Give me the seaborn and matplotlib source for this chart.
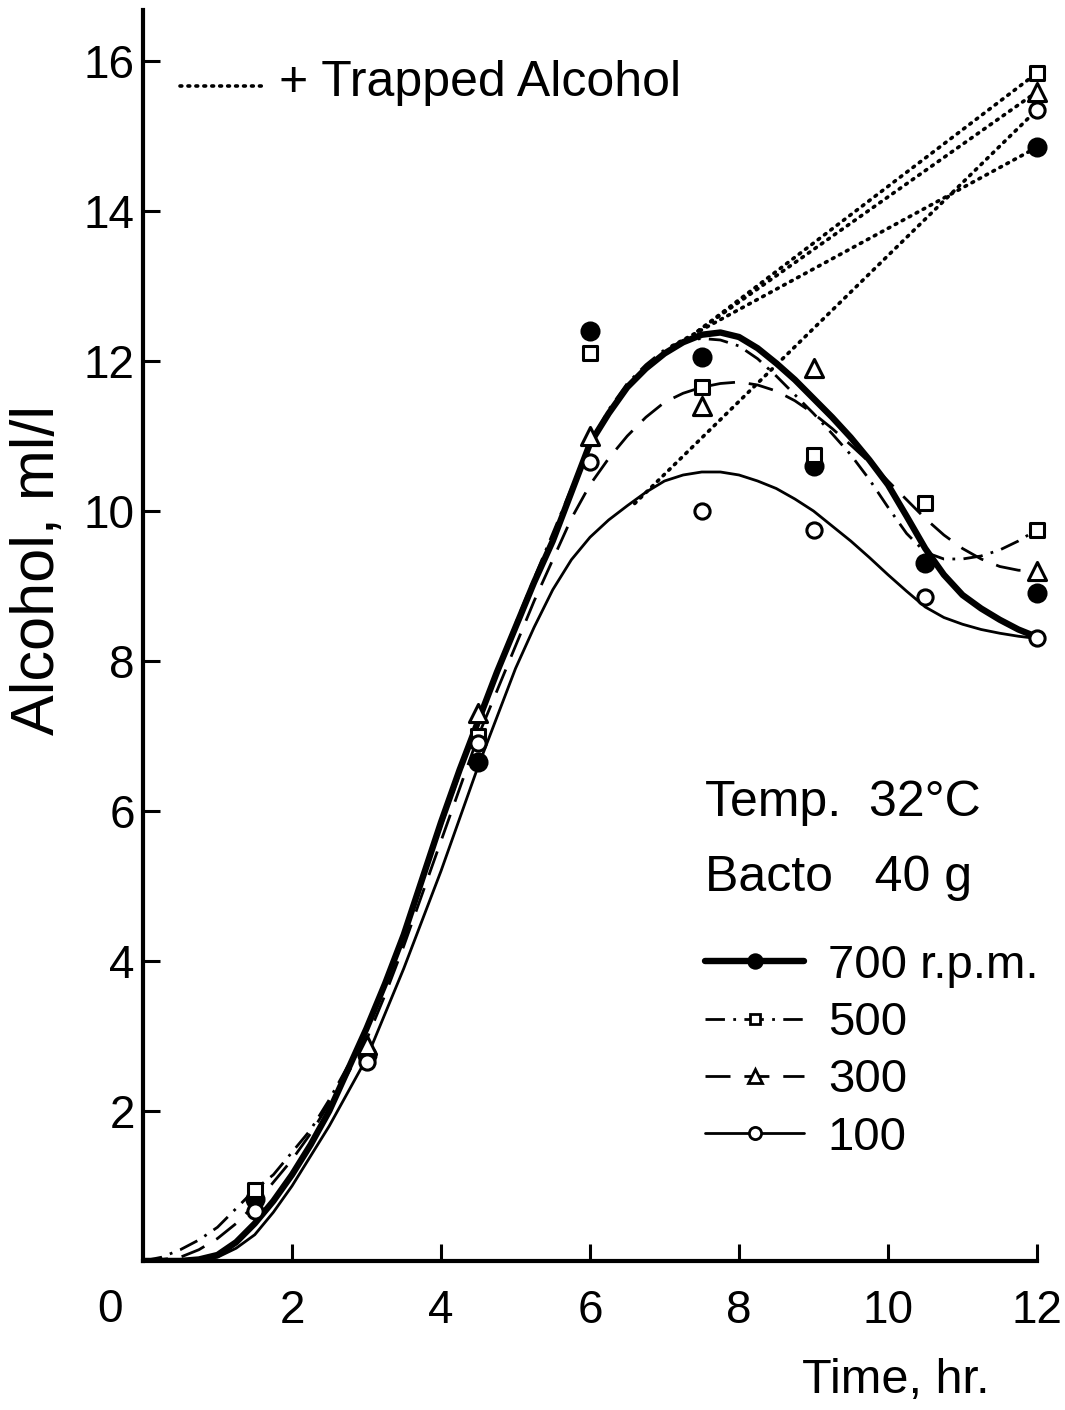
import numpy as np
import matplotlib
matplotlib.use("Agg")
import matplotlib.pyplot as plt
import seaborn as sns
from matplotlib.lines import Line2D

# ---- sampled alcohol concentrations (ml/l) at each stirring speed ----
hours = [1.5, 3.0, 4.5, 6.0, 7.5, 9.0, 10.5, 12.0]
alc_700 = [0.82, 2.75, 6.65, 12.4, 12.05, 10.6, 9.3, 8.9]
alc_500 = [0.95, np.nan, 7.0, 12.1, 11.65, 10.75, 10.1, 9.75]
alc_300 = [np.nan, 2.88, 7.3, 11.0, 11.4, 11.9, np.nan, 9.2]
alc_100 = [0.67, 2.65, 6.9, 10.65, 10.0, 9.75, 8.85, 8.3]

# ---- smoothed trend curves, read every quarter hour ----
curve_t = [0.0, 0.25, 0.5, 0.75, 1.0, 1.25, 1.5, 1.75, 2.0, 2.25, 2.5, 2.75,
           3.0, 3.25, 3.5, 3.75, 4.0, 4.25, 4.5, 4.75, 5.0, 5.25, 5.5, 5.75,
           6.0, 6.25, 6.5, 6.75, 7.0, 7.25, 7.5, 7.75, 8.0, 8.25, 8.5, 8.75,
           9.0, 9.25, 9.5, 9.75, 10.0, 10.25, 10.5, 10.75, 11.0, 11.25, 11.5,
           11.75, 12.0]
curve_700 = [0.0, 0.0, 0.0, 0.02, 0.08, 0.25, 0.5, 0.8, 1.15, 1.55, 2.0, 2.55,
             3.1, 3.7, 4.35, 5.1, 5.85, 6.55, 7.2, 7.85, 8.45, 9.05, 9.6, 10.25,
             10.9, 11.3, 11.65, 11.9, 12.1, 12.25, 12.35, 12.38, 12.32, 12.17,
             11.97, 11.75, 11.5, 11.25, 10.98, 10.68, 10.35, 9.93, 9.5, 9.15,
             8.88, 8.7, 8.55, 8.42, 8.32]
curve_500 = [0.0, 0.05, 0.15, 0.28, 0.45, 0.7, 0.95, 1.15, 1.45, 1.75, 2.15,
             2.6, 3.05, 3.7, 4.35, 5.1, 5.8, 6.5, 7.2, 7.85, 8.5, 9.1, 9.7,
             10.3, 10.9, 11.35, 11.7, 11.95, 12.15, 12.27, 12.3, 12.28, 12.2,
             12.03, 11.8, 11.55, 11.3, 11.03, 10.75, 10.42, 10.05, 9.7, 9.45,
             9.36, 9.36, 9.4, 9.48, 9.6, 9.75]
curve_300 = [0.0, 0.02, 0.05, 0.15, 0.3, 0.5, 0.75, 1.05, 1.35, 1.7, 2.1, 2.5,
             2.95, 3.55, 4.2, 4.9, 5.6, 6.3, 7.0, 7.6, 8.2, 8.8, 9.35, 9.9,
             10.35, 10.7, 11.0, 11.25, 11.45, 11.57, 11.65, 11.7, 11.72, 11.68,
             11.6, 11.47, 11.3, 11.1, 10.88, 10.65, 10.4, 10.15, 9.9, 9.68,
             9.5, 9.36, 9.26, 9.21, 9.2]
curve_100 = [0.0, 0.0, 0.0, 0.01, 0.05, 0.17, 0.35, 0.65, 1.0, 1.4, 1.8, 2.25,
             2.7, 3.3, 3.9, 4.55, 5.2, 5.9, 6.6, 7.25, 7.9, 8.45, 8.95, 9.35,
             9.65, 9.88, 10.07, 10.25, 10.4, 10.48, 10.52, 10.52, 10.48, 10.4,
             10.3, 10.16, 10.0, 9.8, 9.6, 9.38, 9.15, 8.93, 8.72, 8.58, 8.49,
             8.42, 8.37, 8.33, 8.3]

# ---- totals including alcohol caught in the trap (end of run) ----
trap_from_t = [7.1, 7.45, 7.45, 6.6]     # 700, 500, 300, 100 r.p.m.
trap_from_y = [12.2, 12.4, 12.4, 10.1]
trap_t = 12.0
trap_total = [14.85, 15.84, 15.59, 15.35]

x_ticks = [2, 4, 6, 8, 10, 12]
y_ticks = [2, 4, 6, 8, 10, 12, 14, 16]
legend_labels = ["700 r.p.m.", "500", "300", "100"]

sns.set_style("ticks")
plt.rcParams["font.family"] = ["Liberation Sans", "DejaVu Sans"]
plt.rcParams.update({
    "axes.linewidth": 3.0,
    "text.color": "black",
    "axes.labelcolor": "black",
    "xtick.color": "black",
    "ytick.color": "black",
    "axes.edgecolor": "black",
})

fig = plt.figure(figsize=(10.65, 14.10), dpi=100)
ax = fig.add_axes([0.1343, 0.1057, 0.8394, 0.8872])

# series styles: line width, line style, marker, marker size, filled
styles = {
    "700": dict(lw=4.6, ls="-", marker="o", s=150, filled=True),
    "500": dict(lw=2.0, ls=(0, (7, 3, 1, 3)), marker="s", s=95, filled=False),
    "300": dict(lw=2.0, ls=(0, (9, 5)), marker="^", s=170, filled=False),
    "100": dict(lw=2.0, ls="-", marker="o", s=120, filled=False),
}
curves = {"700": curve_700, "500": curve_500, "300": curve_300, "100": curve_100}
points = {"700": alc_700, "500": alc_500, "300": alc_300, "100": alc_100}

for key, st in styles.items():
    sns.lineplot(x=curve_t, y=curves[key], ax=ax, color="black",
                 lw=st["lw"], linestyle=st["ls"], zorder=3)

# dotted extensions to the trapped-alcohol totals
for i, key in enumerate(styles):
    sns.lineplot(x=[trap_from_t[i], trap_t], y=[trap_from_y[i], trap_total[i]],
                 ax=ax, color="black", lw=2.6, linestyle=(0, (0.5, 1.7)),
                 dash_capstyle="round", zorder=2)

for i, (key, st) in enumerate(styles.items()):
    face = "black" if st["filled"] else "white"
    sns.scatterplot(x=hours, y=points[key], ax=ax, marker=st["marker"],
                    s=st["s"], color=face, edgecolor="black", linewidth=2.2,
                    clip_on=False, zorder=6)
    sns.scatterplot(x=[trap_t], y=[trap_total[i]], ax=ax, marker=st["marker"],
                    s=st["s"], color=face, edgecolor="black", linewidth=2.2,
                    clip_on=False, zorder=6)

ax.set_xlim(0, 12)
ax.set_ylim(0, 16.68)
ax.set_xticks(x_ticks)
ax.set_yticks(y_ticks)
ax.tick_params(direction="in", length=12, width=2.2, labelsize=33,
               colors="black")
ax.tick_params(axis="x", pad=20)
ax.tick_params(axis="y", pad=6)
sns.despine(ax=ax)
ax.set_xlabel("")
ax.set_ylabel("")

# origin label shared by both axes
ax.text(-0.44, -0.022, "0", transform=ax.get_xaxis_transform(),
        ha="center", va="top", fontsize=33)

fig.text(0.036, 0.596, "Alcohol, ml/l", rotation=90, ha="center",
         va="center", fontsize=44)
fig.text(0.841, 0.021, "Time, hr.", ha="center", va="center", fontsize=35)

# key for the dotted trapped-alcohol lines
fig.add_artist(Line2D([180 / 1065, 266 / 1065], [1 - 86 / 1410, 1 - 86 / 1410],
                      color="black", lw=2.6, linestyle=(0, (0.5, 1.7)),
                      dash_capstyle="round"))
fig.text(0.262, 1 - 83 / 1410, "+ Trapped Alcohol", ha="left",
         va="center", fontsize=36)
fig.text(0.662, 1 - 803 / 1410, "Temp.  32°C", ha="left", va="center",
         fontsize=36)
fig.text(0.662, 1 - 878 / 1410, "Bacto   40 g", ha="left", va="center",
         fontsize=36)

handles = []
for key, st in styles.items():
    handles.append(Line2D([], [], color="black", lw=st["lw"], linestyle=st["ls"],
                          marker=st["marker"], markersize=np.sqrt(st["s"]) * 0.8,
                          markerfacecolor="black" if st["filled"] else "white",
                          markeredgecolor="black", markeredgewidth=2))
fig.legend(handles, legend_labels, loc="upper left",
           bbox_to_anchor=(0.662, 1 - 944 / 1410), frameon=False,
           fontsize=34, handlelength=2.1, handletextpad=0.5,
           labelspacing=0.28, borderpad=0, borderaxespad=0, numpoints=1)

fig.savefig("out.png", dpi=100, facecolor="white")
